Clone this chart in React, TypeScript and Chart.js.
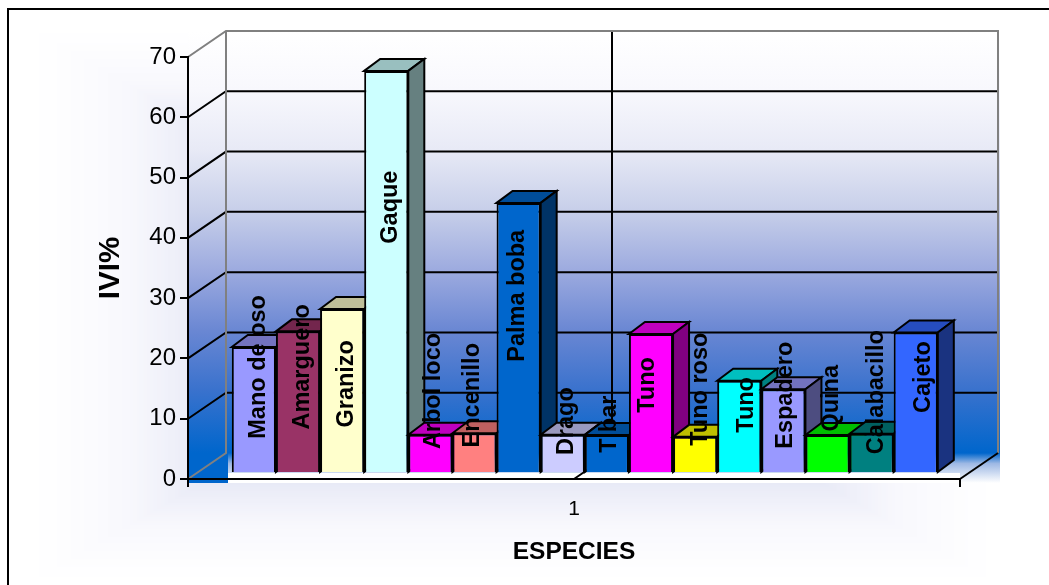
import React, { useEffect, useRef } from "react";
import { Chart, registerables } from "chart.js";

Chart.register(...registerables);

const CATEGORIES = ["1"];
const SPECIES = ["Mano de oso", "Amarguero", "Granizo", "Gaque", "Arbol loco", "Encenillo", "Palma boba", "Drago", "Tibar", "Tuno", "Tuno roso", "Tuno", "Espadero", "Quina", "Calabacillo", "Cajeto"];
const IVI = [20.9, 23.5, 27.2, 66.7, 6.35, 6.6, 44.8, 6.35, 6.3, 23.05, 6.0, 15.3, 13.9, 6.3, 6.5, 23.3];
const COLORS = ["#9999FF", "#993366", "#FFFFCC", "#CCFFFF", "#FF00FF", "#FF8080", "#0066CC", "#CCCCFF", "#0066CC", "#FF00FF", "#FFFF00", "#00FFFF", "#9999FF", "#00FF00", "#008080", "#3366FF"];
// Where each bar's vertical label is centred, in axis units, and its sideways nudge in pixels.
const LABEL_AT = [17.6, 17.6, 14.8, 44.1, 13.6, 12.9, 29.4, 8.6, 8.1, 14.6, 13.9, 11.3, 12.9, 12.4, 13.4, 15.9];
const LABEL_NUDGE = [5, 5, 4, 4, 3, -2, -1, 4, 3, -3, 5, 7, 2, 4, 5, 8];

const WALL_STOPS: [number, string][] = [
  [0, "#ffffff"], [0.14, "#f8f8fd"], [0.28, "#e8eaf6"], [0.43, "#c6cee9"], [0.57, "#9caadf"],
  [0.71, "#6a87d3"], [0.85, "#3a72cd"], [1, "#0066cc"],
];

const BAR_SHIFT = { x: 10.8, y: -6 };
const BAR_DEPTH = { x: 16, y: -12 };
const WALL = { x: 38, y: -26 };

function hexToRgb(h: string) {
  return [parseInt(h.slice(1, 3), 16), parseInt(h.slice(3, 5), 16), parseInt(h.slice(5, 7), 16)];
}
function shade(h: string, f: number) {
  const [r, g, b] = hexToRgb(h);
  return `rgb(${Math.round(r * f)},${Math.round(g * f)},${Math.round(b * f)})`;
}
function stopColor(t: number) {
  for (let i = 1; i < WALL_STOPS.length; i++) {
    const [t0, c0] = WALL_STOPS[i - 1];
    const [t1, c1] = WALL_STOPS[i];
    if (t <= t1) {
      const k = (t - t0) / (t1 - t0);
      const a = hexToRgb(c0);
      const b = hexToRgb(c1);
      return `rgb(${a.map((v, j) => Math.round(v + (b[j] - v) * k)).join(",")})`;
    }
  }
  return WALL_STOPS[WALL_STOPS.length - 1][1];
}
function poly(ctx: CanvasRenderingContext2D, pts: number[][], fill?: string, stroke?: string, lw = 2) {
  ctx.beginPath();
  pts.forEach((p, i) => (i ? ctx.lineTo(p[0], p[1]) : ctx.moveTo(p[0], p[1])));
  if (fill) {
    ctx.closePath();
    ctx.fillStyle = fill;
    ctx.fill();
  }
  if (stroke) {
    ctx.strokeStyle = stroke;
    ctx.lineWidth = lw;
    ctx.lineJoin = "miter";
    ctx.stroke();
  }
}

const scene = {
  id: "scene",
  beforeDraw(chart: any) {
    const { ctx, chartArea: a, scales } = chart;
    const y = scales.y;
    ctx.save();
    ctx.fillStyle = "#ffffff";
    ctx.fillRect(0, 0, chart.width, chart.height);

    // soft rectangular halo behind the plot
    const box = { l: 25, t: 25, r: 1000, b: 585 };
    const steps = 140;
    for (let k = 0; k < steps; k++) {
      const t = k / steps;
      const hw = (box.r - box.l) / 2;
      const hh = (box.b - box.t) / 2;
      ctx.fillStyle = stopColor(Math.pow(t, 1.25));
      ctx.fillRect(box.l + hw * t, box.t + hh * t, 2 * hw * (1 - t), 2 * hh * (1 - t));
    }

    // outer frame, running off the right and bottom of the picture
    ctx.fillStyle = "#000000";
    ctx.fillRect(7, 8, chart.width, 2);
    ctx.fillRect(7, 8, 2, chart.height);

    const bx0 = a.left + WALL.x;
    const bx1 = a.right + WALL.x;
    const topB = y.getPixelForValue(70) + WALL.y;
    const botB = y.getPixelForValue(0) + WALL.y;

    const wall = ctx.createLinearGradient(0, topB, 0, botB);
    WALL_STOPS.forEach(([t, c]) => wall.addColorStop(t, c));
    ctx.fillStyle = wall;
    ctx.fillRect(a.left, topB, bx1 + 2 - a.left, botB - topB);
    ctx.fillStyle = "#0066cc";
    ctx.fillRect(a.left, botB, bx0 + 2 - a.left, 30);
    const floor = ctx.createLinearGradient(0, botB, 0, botB + 30);
    floor.addColorStop(0, "#0066cc");
    floor.addColorStop(0.35, "#9db8e4");
    floor.addColorStop(1, "#ffffff");
    ctx.fillStyle = floor;
    ctx.fillRect(bx0 + 2, botB, bx1 - bx0, 30);

    // floor surface
    const y0 = y.getPixelForValue(0);
    ctx.fillStyle = "#ffffff";
    ctx.fillRect(bx0 + 2, y0 - 6, a.right - bx0 - 2, 10);

    // gridlines on both walls
    y.ticks.forEach((tick: any) => {
      const py = y.getPixelForValue(tick.value);
      if (tick.value === 0 || tick.value === 70) return;
      poly(ctx, [[a.left, py], [bx0, py + WALL.y], [bx1, py + WALL.y]], undefined, "#000000", 2);
    });

    // divider at the middle of the category axis
    const cx = scales.x.getPixelForValue(0);
    poly(ctx, [[cx, y0], [cx + WALL.x, botB], [cx + WALL.x, topB]], undefined, "#000000", 2);

    // wall outlines
    poly(ctx, [[a.left, y.getPixelForValue(70)], [bx0, topB], [bx1, topB], [bx1, botB]], undefined, "#808080", 2);
    poly(ctx, [[bx0, topB], [bx0, botB], [a.left, y0]], undefined, "#808080", 2);

    // floor right edge and the end ticks of the category axis
    poly(ctx, [[a.right, y0], [bx1, botB]], undefined, "#000000", 2);
    poly(ctx, [[a.left, y0], [a.left, y0 + 8]], undefined, "#000000", 2);
    poly(ctx, [[a.right, y0], [a.right, y0 + 8]], undefined, "#000000", 2);
    ctx.restore();
  },
  beforeDatasetsDraw(chart: any) {
    const ctx = chart.ctx;
    ctx.save();
    ctx.translate(BAR_SHIFT.x, BAR_SHIFT.y);
    chart.data.datasets.forEach((ds: any, i: number) => {
      const meta = chart.getDatasetMeta(i);
      const el = meta.data[0];
      const { x, y, base, width } = el.getProps(["x", "y", "base", "width"], true);
      const l = x - width / 2;
      const r = x + width / 2;
      const d = BAR_DEPTH;
      poly(ctx, [[l, y], [l + d.x, y + d.y], [r + d.x, y + d.y], [r, y]], shade(COLORS[i], 0.75), "#000000", 2);
      poly(ctx, [[r, y], [r + d.x, y + d.y], [r + d.x, base + d.y], [r, base]], shade(COLORS[i], 0.5), "#000000", 2);
      meta.controller.draw();
    });
    ctx.restore();
    return false;
  },
  afterDraw(chart: any) {
    const ctx = chart.ctx;
    ctx.save();
    ctx.font = 'bold 23.5px "Liberation Sans", Arial, sans-serif';
    ctx.fillStyle = "#000000";
    ctx.textAlign = "center";
    ctx.textBaseline = "middle";
    SPECIES.forEach((name, i) => {
      const el = chart.getDatasetMeta(i).data[0];
      const px = el.getProps(["x"], true).x + BAR_SHIFT.x + LABEL_NUDGE[i];
      const py = chart.scales.y.getPixelForValue(LABEL_AT[i]) + BAR_SHIFT.y;
      ctx.save();
      ctx.translate(px, py);
      ctx.rotate(-Math.PI / 2);
      ctx.fillText(name, 0, 0);
      ctx.restore();
    });
    ctx.restore();
  },
};

export default function App() {
  const ref = useRef<HTMLCanvasElement>(null);
  useEffect(() => {
    const chart = new Chart(ref.current!, {
      type: "bar",
      data: {
        labels: CATEGORIES,
        datasets: SPECIES.map((name, i) => ({
          label: name,
          data: [IVI[i]],
          backgroundColor: COLORS[i],
          borderColor: "#000000",
          borderWidth: 2,
          barPercentage: 1,
          categoryPercentage: 0.9145,
        })),
      },
      options: {
        responsive: false,
        animation: false,
        events: [],
        layout: { padding: { left: 0, top: 57, right: 89, bottom: 0 } },
        plugins: { legend: { display: false }, tooltip: { enabled: false }, title: { display: false } },
        scales: {
          x: {
            grid: { display: false },
            border: { display: true, color: "#000000", width: 2 },
            ticks: { color: "#000000", padding: 10, font: { family: '"Liberation Sans"', size: 21 } },
            title: {
              display: true,
              text: "ESPECIES",
              color: "#000000",
              font: { family: '"Liberation Sans"', size: 24.5, weight: "bold" },
              padding: { top: 0, bottom: 18 },
            },
            afterFit: (s: any) => { s.height = 106; },
          },
          y: {
            min: 0,
            max: 70,
            ticks: { stepSize: 10, color: "#000000", padding: 4, font: { family: '"Liberation Sans"', size: 24 } },
            grid: { display: true, drawOnChartArea: false, drawTicks: true, tickLength: 8, color: "#000000", lineWidth: 2 },
            border: { display: true, color: "#000000", width: 2 },
            title: {
              display: true,
              text: "IVI%",
              color: "#000000",
              font: { family: '"Liberation Sans"', size: 29.5, weight: "bold" },
              padding: { top: 93, bottom: 0 },
            },
            afterFit: (s: any) => { s.width = 188; },
          },
        },
      },
      plugins: [scene],
    } as any);
    return () => chart.destroy();
  }, []);
  return (
    <div style={{ position: "fixed", left: 0, top: 0, width: 1049, height: 585, overflow: "hidden" }}>
      <canvas ref={ref} width={1049} height={585} style={{ display: "block" }} />
    </div>
  );
}
